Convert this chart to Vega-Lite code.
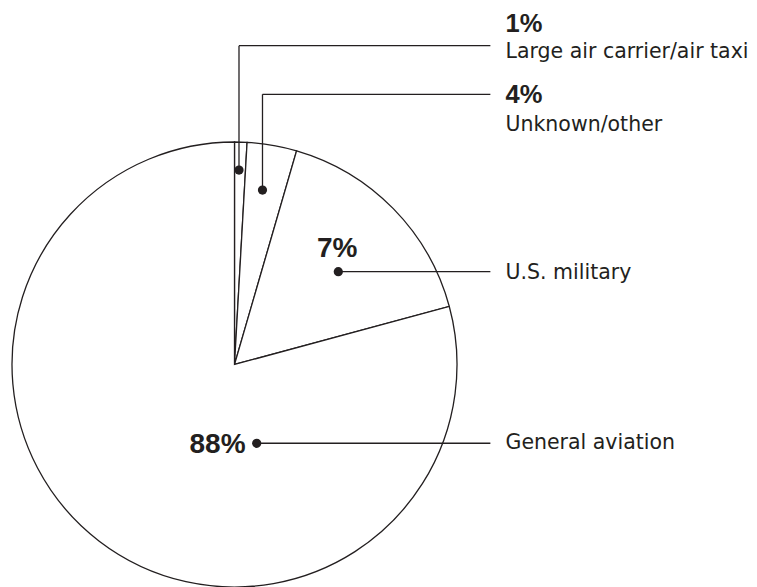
{
  "$schema": "https://vega.github.io/schema/vega-lite/v6.json",
  "width": 445,
  "height": 445,
  "autosize": {"type": "none"},
  "padding": {"left": 12, "top": 142, "right": 300, "bottom": 0},
  "background": "white",
  "config": {"view": {"stroke": null}},
  "data": {
    "values": [
      {"category": "Large air carrier/air taxi", "pct": "1%", "drawn": 0.9, "dotX": 0.0202, "dotY": 0.874, "elbowY": 1.4328, "numX": 1.218, "numY": 1.493, "nameY": 1.3775},
      {"category": "Unknown/other", "pct": "4%", "drawn": 3.6, "dotX": 0.1258, "dotY": 0.784, "elbowY": 1.2144, "numX": 1.218, "numY": 1.174, "nameY": 1.0508},
      {"category": "U.S. military", "pct": "7%", "drawn": 16.3, "dotX": 0.4665, "dotY": 0.417, "elbowY": 0.417, "numX": 0.371, "numY": 0.4818, "nameY": 0.383},
      {"category": "General aviation", "pct": "88%", "drawn": 79.2, "dotX": 0.0998, "dotY": -0.354, "elbowY": -0.354, "numX": -0.2022, "numY": -0.399, "nameY": -0.381}
    ]
  },
  "layer": [
    {
      "mark": {"type": "arc", "radius": 222.5, "fill": "white", "stroke": "#231f20", "strokeWidth": 1.3},
      "encoding": {
        "theta": {"field": "drawn", "type": "quantitative", "stack": true},
        "order": {"field": "drawn", "sort": "ascending"}
      }
    },
    {
      "mark": {"type": "rule", "stroke": "#231f20", "strokeWidth": 1.3},
      "encoding": {
        "x": {"field": "dotX", "type": "quantitative", "scale": {"domain": [-1, 1], "nice": false, "zero": false}, "axis": null},
        "y": {"field": "dotY", "type": "quantitative", "scale": {"domain": [-1, 1], "nice": false, "zero": false}, "axis": null},
        "y2": {"field": "elbowY"}
      }
    },
    {
      "mark": {"type": "rule", "stroke": "#231f20", "strokeWidth": 1.3},
      "encoding": {
        "x": {"field": "dotX", "type": "quantitative"},
        "x2": {"datum": 1.15},
        "y": {"field": "elbowY", "type": "quantitative"}
      }
    },
    {
      "mark": {"type": "point", "filled": true, "size": 85, "color": "#231f20", "opacity": 1},
      "encoding": {
        "x": {"field": "dotX", "type": "quantitative"},
        "y": {"field": "dotY", "type": "quantitative"}
      }
    },
    {
      "transform": [{"filter": "datum.drawn < 5"}],
      "mark": {"type": "text", "font": "Liberation Sans", "fontWeight": "bold", "fontSize": 25.5, "align": "left", "baseline": "alphabetic", "color": "#231f20"},
      "encoding": {
        "x": {"field": "numX", "type": "quantitative"},
        "y": {"field": "numY", "type": "quantitative"},
        "text": {"field": "pct"}
      }
    },
    {
      "transform": [{"filter": "datum.drawn >= 5"}],
      "mark": {"type": "text", "font": "Liberation Sans", "fontWeight": "bold", "fontSize": 28, "align": "left", "baseline": "alphabetic", "color": "#231f20"},
      "encoding": {
        "x": {"field": "numX", "type": "quantitative"},
        "y": {"field": "numY", "type": "quantitative"},
        "text": {"field": "pct"}
      }
    },
    {
      "mark": {"type": "text", "font": "DejaVu Sans", "fontSize": 20.5, "align": "left", "baseline": "alphabetic", "color": "#231f20"},
      "encoding": {
        "x": {"datum": 1.218},
        "y": {"field": "nameY", "type": "quantitative"},
        "text": {"field": "category"}
      }
    }
  ]
}
